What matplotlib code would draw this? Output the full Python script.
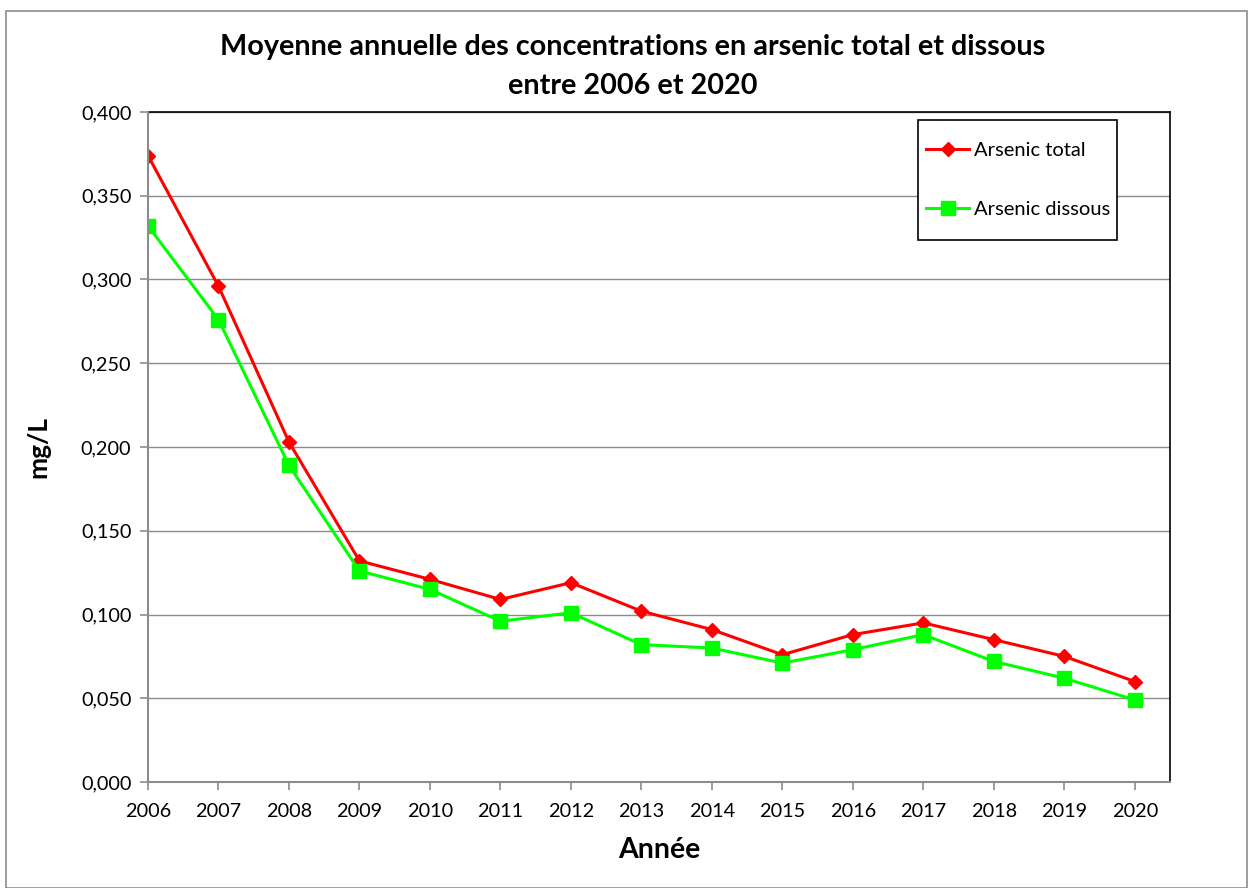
import matplotlib
matplotlib.use("Agg")
import matplotlib.pyplot as plt
from matplotlib.patches import Rectangle
from matplotlib.ticker import FuncFormatter

years = [2006, 2007, 2008, 2009, 2010, 2011, 2012, 2013, 2014, 2015, 2016, 2017, 2018, 2019, 2020]
arsenic_total = [0.374, 0.296, 0.203, 0.132, 0.121, 0.109, 0.119, 0.102, 0.091, 0.076, 0.088, 0.095, 0.085, 0.075, 0.060]
arsenic_dissous = [0.332, 0.276, 0.189, 0.126, 0.115, 0.096, 0.101, 0.082, 0.080, 0.071, 0.079, 0.088, 0.072, 0.062, 0.049]
y_ticks = [0.0, 0.05, 0.1, 0.15, 0.2, 0.25, 0.3, 0.35, 0.4]

plt.rcParams['font.family'] = ['Lato', 'DejaVu Sans']

W, H = 1250, 888
fig = plt.figure(figsize=(12.5, 8.88), dpi=100)
fig.patches.append(Rectangle((6/W, 0.0), 1241/W, 1 - 11/H, transform=fig.transFigure,
                             fill=False, edgecolor='#8c8c8c', linewidth=1.2, zorder=0))

ax = fig.add_axes([148/W, 1 - 782/H, (1170 - 148)/W, (782 - 112)/H])

ax.plot(years, arsenic_total, color='#ff0000', linewidth=2.2, marker='D', markersize=7.5,
        label='Arsenic total', zorder=3)
ax.plot(years, arsenic_dissous, color='#00ff00', linewidth=2.2, marker='s', markersize=9.5,
        label='Arsenic dissous', zorder=3)

ax.set_xlim(2006, 2020.5)
ax.set_ylim(0, 0.4)
ax.set_xticks(years)
ax.set_xticklabels([str(y) for y in years])
ax.set_yticks(y_ticks)
ax.yaxis.set_major_formatter(FuncFormatter(lambda v, p: f"{v:.3f}".replace('.', ',')))
ax.grid(axis='y', color='#8c8c8c', linewidth=1.0)
ax.set_axisbelow(True)

for side in ['left', 'bottom']:
    ax.spines[side].set_color('#8c8c8c')
    ax.spines[side].set_linewidth(1.5)
for side in ['top', 'right']:
    ax.spines[side].set_color('#000000')
    ax.spines[side].set_linewidth(1.2)
ax.spines['left'].set_zorder(4)

ax.tick_params(axis='both', direction='out', length=6, width=1.2, color='#8c8c8c',
               labelsize=14.3, labelcolor='black')
ax.tick_params(axis='x', pad=9)
ax.tick_params(axis='y', pad=6)

ax.set_xlabel('Année', fontsize=20.5, fontweight='bold', labelpad=12)
ax.set_ylabel('mg/L', fontsize=19, fontweight='bold', labelpad=22)

fig.text(0.506, 1 - 47/H, 'Moyenne annuelle des concentrations en arsenic total et dissous',
         ha='center', va='center', fontsize=20.7, fontweight='bold')
fig.text(0.506, 1 - 86/H, 'entre 2006 et 2020',
         ha='center', va='center', fontsize=20.7, fontweight='bold')

# legend frame drawn separately
fig.patches.append(Rectangle((918/W, 1 - 240/H), (1117 - 918)/W, 120/H, transform=fig.transFigure,
                             fill=True, facecolor='white', edgecolor='black', linewidth=1.2, zorder=5))
leg = fig.legend(handles=ax.get_lines(), loc='center left', bbox_to_anchor=(926/W, 1 - 180/H),
                 fontsize=14.5, frameon=False, borderpad=0, labelspacing=2.05,
                 handlelength=2.15, handletextpad=0.25, borderaxespad=0)
leg.set_zorder(6)

fig.savefig('out.png', dpi=100, facecolor='white')
